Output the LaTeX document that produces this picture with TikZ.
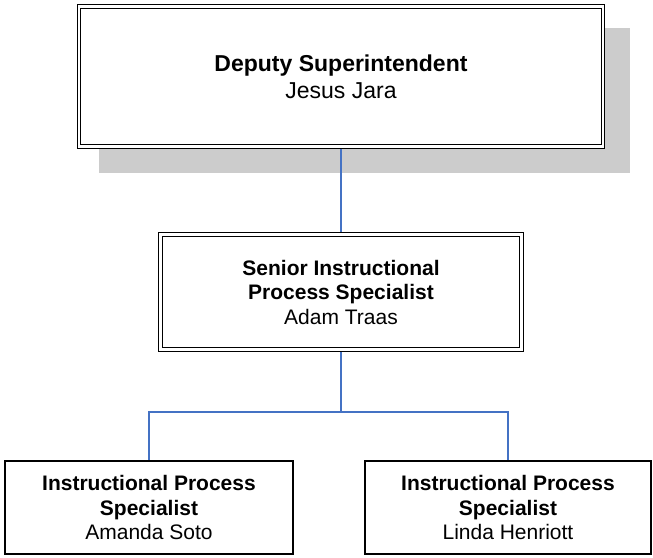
\documentclass[tikz,border=0pt]{standalone}
\usepackage{fontspec}
\setmainfont{Liberation Sans}

\definecolor{enlace}{HTML}{4472C4}
\definecolor{sombra}{HTML}{CCCCCC}

\tikzset{
    cargo/.style={draw, line width=1.4pt, fill=white, align=center,
        inner sep=0pt, font=\fontsize{21}{24.5}\selectfont},
    cargodoble/.style={cargo, double, double distance=2.6pt, line width=1.1pt,
        outer sep=2.4pt},
    enlace/.style={draw=enlace, line width=1.3pt}
}

\begin{document}
\begin{tikzpicture}[x=1pt, y=-1pt]
        \useasboundingbox (0,0) rectangle (653,557);

        % Sombra del cargo principal
        \fill[sombra] (99,28) rectangle (630,173);

        % Cargos
        \node[cargodoble, minimum width=524pt, minimum height=140pt,
            font=\fontsize{23}{27}\selectfont] (deputy) at (341,76.5)
            {\textbf{Deputy Superintendent}\\Jesus Jara};
        \node[cargodoble, minimum width=361pt, minimum height=115pt] (senior) at (341,292)
            {\textbf{Senior Instructional}\\\textbf{Process Specialist}\\Adam Traas};
        \node[cargo, minimum width=288pt, minimum height=93pt] (soto) at (149,507.5)
            {\textbf{Instructional Process}\\\textbf{Specialist}\\Amanda Soto};
        \node[cargo, minimum width=286pt, minimum height=93pt] (henriott) at (508,507.5)
            {\textbf{Instructional Process}\\\textbf{Specialist}\\Linda Henriott};

        % Conectores
        \coordinate (bus) at ([yshift=-60pt]senior.south);
        \draw[enlace] (deputy.south) -- (senior.north);
        \draw[enlace] (senior.south) -- (bus) -| (soto.north);
        \draw[enlace] (bus) -| (henriott.north);
    \end{tikzpicture}
\end{document}
